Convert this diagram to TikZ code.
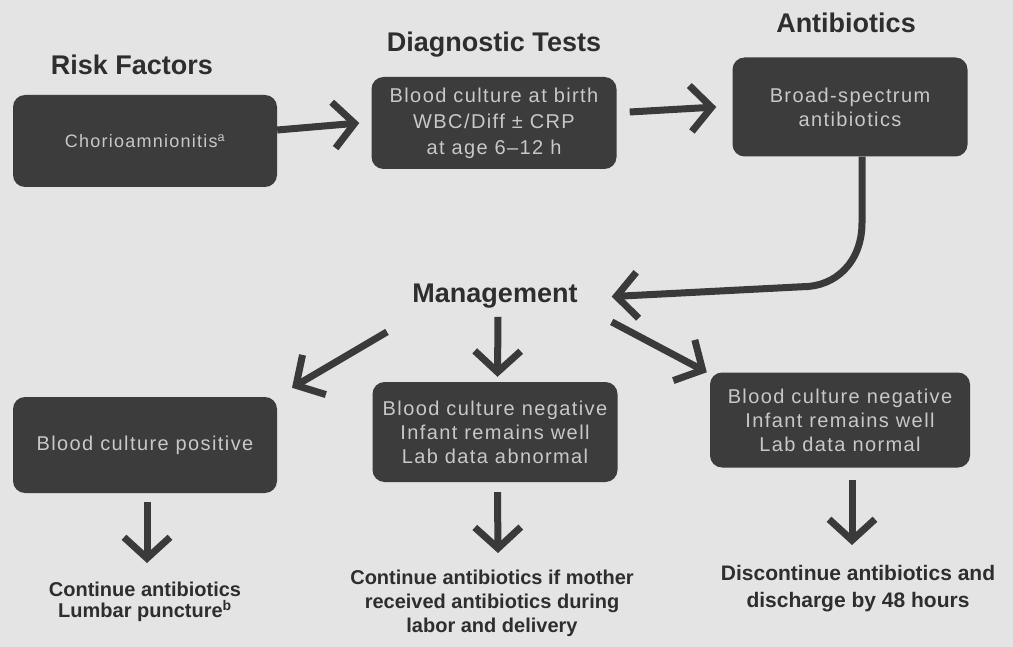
\documentclass[tikz,border=0pt]{standalone}
\usepackage{fontspec}
\setmainfont{Liberation Sans}
\newfontfamily\boxfont[LetterSpace=7]{Liberation Sans}
\usetikzlibrary{arrows.meta}
\definecolor{bg}{HTML}{E4E4E4}
\definecolor{boxc}{HTML}{3C3C3C}
\definecolor{boxt}{HTML}{C8C8C8}
\definecolor{arrc}{HTML}{3A3A3A}
\definecolor{labc}{HTML}{2E2E2E}
\begin{document}
\begin{tikzpicture}[x=1pt,y=-1pt,
  box/.style={fill=boxc, rounded corners=12pt, text=boxt, align=center, inner sep=0pt,
    font=\boxfont\fontsize{20}{24}\selectfont},
  title/.style={text=labc, anchor=base, inner sep=3pt, font=\bfseries\fontsize{27}{30}\selectfont},
  result/.style={text=labc, anchor=north, align=center, inner sep=0pt},
  arr/.style={draw=arrc, line width=7pt,
    -{Straight Barb[length=21pt, width=46pt, line width=7pt]}}]
\useasboundingbox[fill=bg] (0,0) rectangle (1013,647);

% titles
\node[title] (trf) at (132,75) {Risk Factors};
\node[title] (tdt) at (494,52) {Diagnostic Tests};
\node[title] (tab) at (846,33) {Antibiotics};
\node[title] (mg) at (495,303) {Management};

% boxes
\node[box, minimum width=264pt, minimum height=92pt, font=\boxfont\fontsize{18}{22}\selectfont] (rf) at (145,141) {Chorioamnionitis\textsuperscript{a}};
\node[box, minimum width=245pt, minimum height=92pt, font=\boxfont\fontsize{20}{26}\selectfont] (dt) at (494,123) {Blood culture at birth\\WBC/Diff ± CRP\\at age 6–12 h};
\node[box, minimum width=235pt, minimum height=99pt] (ab) at (850,107) {Broad-spectrum\\antibiotics};
\node[box, minimum width=264pt, minimum height=96pt] (bcp) at (145,445) {Blood culture positive};
\node[box, minimum width=245pt, minimum height=100pt] (bcn1) at (495,432) {Blood culture negative\\Infant remains well\\Lab data abnormal};
\node[box, minimum width=260pt, minimum height=95pt] (bcn2) at (840,420) {Blood culture negative\\Infant remains well\\Lab data normal};

% results
\node[result, font=\bfseries\fontsize{20}{21}\selectfont] (t4) at (145,582) {Continue antibiotics\\Lumbar puncture\textsuperscript{b}};
\node[result, font=\bfseries\fontsize{20}{24}\selectfont] (t5) at (492,570) {Continue antibiotics if mother\\received antibiotics during\\labor and delivery};
\node[result, font=\bfseries\fontsize{21}{27}\selectfont] (t6) at (858,565) {Discontinue antibiotics and\\discharge by 48 hours};

% top arrows
\draw[arr] ([yshift=11pt]rf.east) -- ([xshift=-12pt]dt.west);
\draw[arr] ([shift={(13pt,11pt)}]dt.east) -- ([xshift=-16pt]ab.west);
\draw[arr] ([xshift=12pt]ab.south) -- ([shift={(12pt,-66pt)}]ab.south)
  .. controls ([shift={(12pt,-106pt)}]ab.south) and ([shift={(-15pt,-130pt)}]ab.south) .. ([shift={(-47pt,-130pt)}]ab.south)
  -- ([xshift=31pt]mg.east);

% management arrows
\draw[arr] ([shift={(-108pt,-20pt)}]mg.south) -- ([shift={(147pt,9pt)}]bcp.north);
\draw[arr] ([shift={(3pt,-5pt)}]mg.south) -- ([shift={(2.5pt,5pt)}]bcn1.north);
\draw[arr] ([shift={(31pt,-10pt)}]mg.south east) -- ([xshift=-3pt]bcn2.north west);

% down arrows
\draw[arr] ([shift={(2pt,-9pt)}]bcp.south) -- ([shift={(2pt,19pt)}]t4.north);
\draw[arr] ([shift={(2.5pt,-10pt)}]bcn1.south) -- ([shift={(6pt,17pt)}]t5.north);
\draw[arr] ([shift={(12pt,-12pt)}]bcn2.south) -- ([shift={(-6pt,20pt)}]t6.north);
\end{tikzpicture}
\end{document}
